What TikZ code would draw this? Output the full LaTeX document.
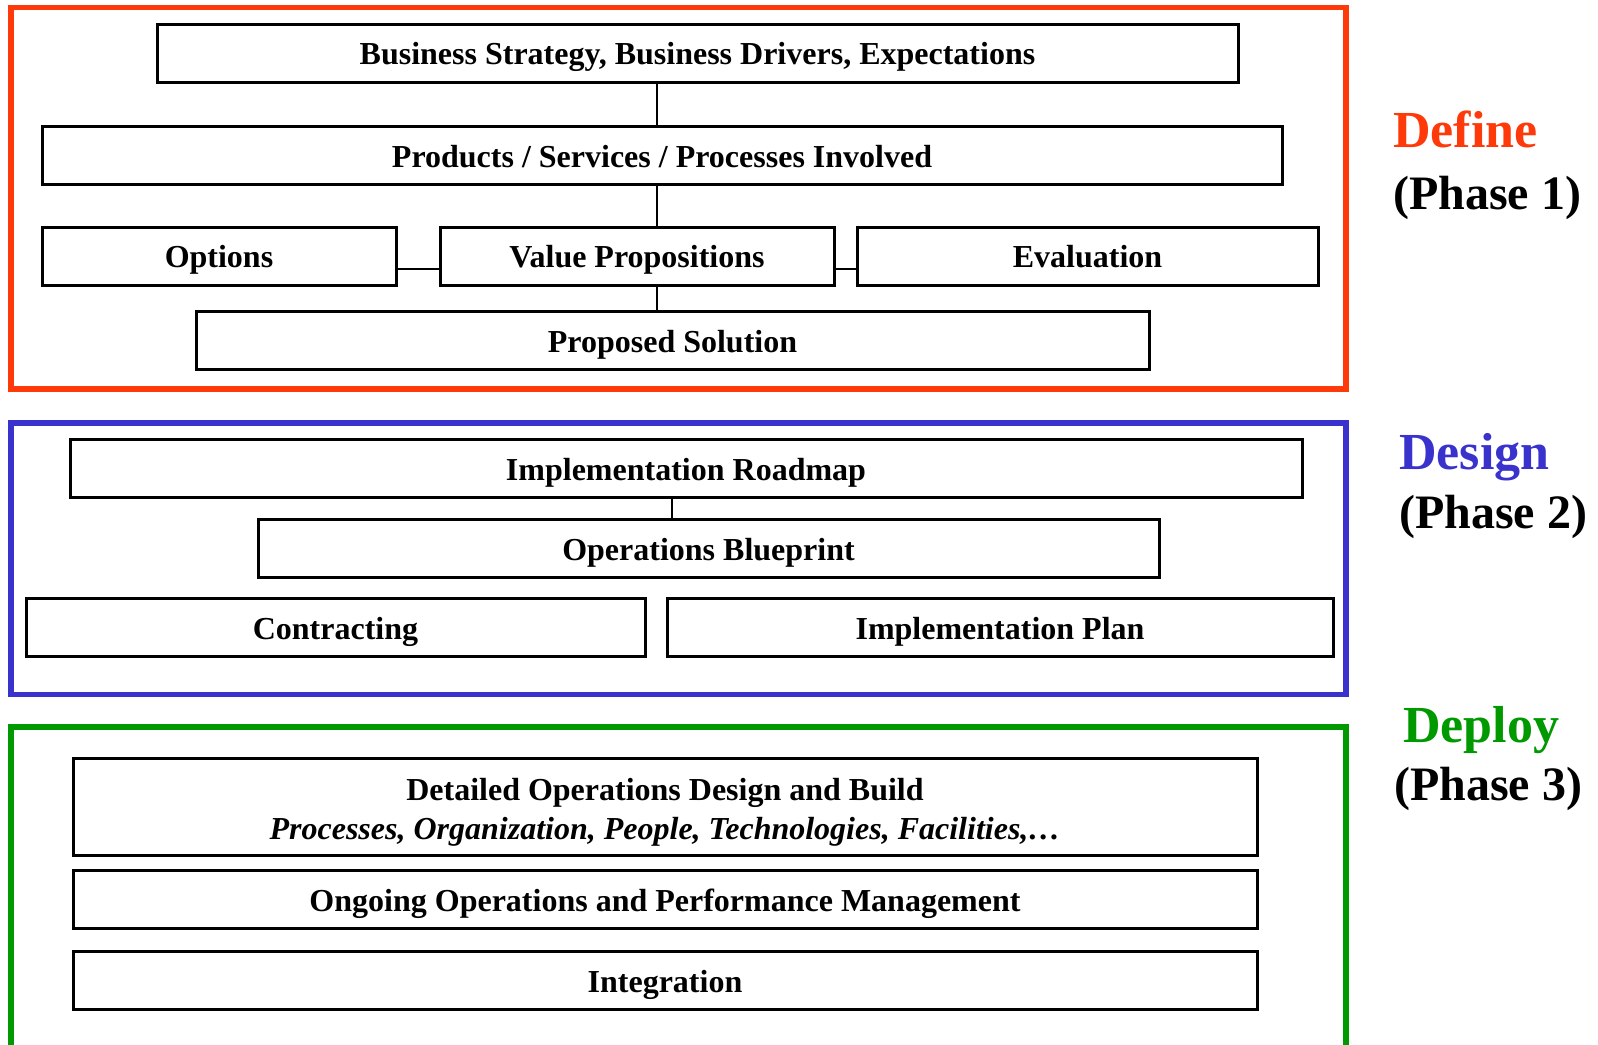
\documentclass[tikz,border=0pt]{standalone}
\usepackage{fontspec}
\setmainfont{Liberation Serif}
\usepackage{tikz}

\definecolor{definered}{RGB}{255,58,10}
\definecolor{designblue}{RGB}{58,50,204}
\definecolor{deploygreen}{RGB}{0,153,0}

\tikzset{
  box/.style={draw, line width=3pt, inner sep=0pt, minimum height=58,
    text height=24, text depth=1,
    align=center, font=\bfseries\fontsize{32}{39}\selectfont},
  link/.style={line width=2.8pt},
  frame/.style={line width=5.5pt},
  phase/.style={anchor=base west, inner sep=0pt,
    font=\bfseries\fontsize{48}{56}\selectfont},
}

\begin{document}
\begin{tikzpicture}[x=1pt,y=-1pt]
    \useasboundingbox (0,0) rectangle (1598,1044);

    % define
    \begin{scope}
      \draw[frame, definered] (11,7.5) rectangle (1346,389);
      \node[box, minimum width=1081] (biz) at (697.5,53) {Business Strategy, Business Drivers, Expectations};
      \node[box, minimum width=1240] (prod) at (662,155.5) {Products / Services / Processes Involved};
      \node[box, minimum width=354] (opt) at (219,256) {Options};
      \node[box, minimum width=394] (vp) at (637,256) {Value Propositions};
      \node[box, minimum width=461] (eval) at (1087.5,256) {Evaluation};
      \node[box, minimum width=953] (sol) at (672.5,340.5) {Proposed Solution};
      \coordinate (spine) at (657,269);
      \draw[link] (biz.south -| spine) -- (prod.north -| spine);
      \draw[link] (prod.south -| spine) -- (vp.north -| spine);
      \draw[link] (vp.south -| spine) -- (sol.north -| spine);
      \draw[link] (opt.east |- spine) -- (vp.west |- spine);
      \draw[link] (vp.east |- spine) -- (eval.west |- spine);
      \node[phase, text=definered, font=\bfseries\fontsize{52}{60}\selectfont] (defn) at (1393,147) {Define};
      \node[phase] (ph1) at (1393,209) {(Phase 1)};
    \end{scope}

    % design
    \begin{scope}
      \draw[frame, designblue] (11,423) rectangle (1346,694.5);
      \node[box, minimum width=1232] (road) at (686,468.5) {Implementation Roadmap};
      \node[box, minimum width=901] (blue) at (708.5,548.5) {Operations Blueprint};
      \node[box, minimum width=619] (contr) at (335.5,627.5) {Contracting};
      \node[box, minimum width=666] (plan) at (1000,627.5) {Implementation Plan};
      \coordinate (joint) at (672,510);
      \draw[link] (road.south -| joint) -- (blue.north -| joint);
      \node[phase, text=designblue, font=\bfseries\fontsize{52}{60}\selectfont] (dsgn) at (1399,469) {Design};
      \node[phase] (ph2) at (1399,528) {(Phase 2)};
    \end{scope}

    % deploy
    \begin{scope}
      \draw[frame, deploygreen] (11,1050) -- (11,727) -- (1346,727) -- (1346,1050);
      \node[box, minimum width=1184, minimum height=97, text height={}, text depth={}] (detail) at (665,807)
        {\rule{0pt}{33pt}Detailed Operations Design and Build\\
         \textit{Processes, Organization, People, Technologies, Facilities,…}};
      \node[box, minimum width=1184] (ongo) at (665,899.5) {Ongoing Operations and Performance Management};
      \node[box, minimum width=1184] (integ) at (665,980.5) {Integration};
      \node[phase, text=deploygreen, font=\bfseries\fontsize{52}{60}\selectfont] (depl) at (1403,742) {Deploy};
      \node[phase] (ph3) at (1394,800) {(Phase 3)};
    \end{scope}
  \end{tikzpicture}
\end{document}
